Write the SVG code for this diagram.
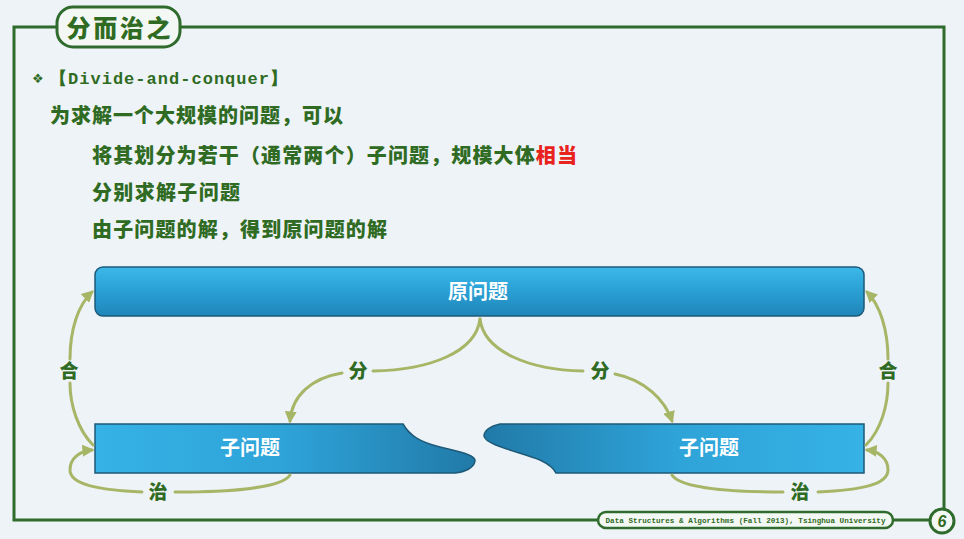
<svg xmlns="http://www.w3.org/2000/svg" width="964" height="539" viewBox="0 0 964 539">
<defs>
<style>
.frame{fill:none;stroke:#2f6b2c;stroke-width:3}
.cn{font-family:"Noto Sans CJK SC","Noto Sans",sans-serif;font-weight:900}
.g{fill:#2f6b22}
.lbl{font-family:"Noto Sans CJK SC",sans-serif;font-weight:900;font-size:19px;fill:#2f6b22;text-anchor:middle}
.wt{font-family:"Noto Sans CJK SC",sans-serif;font-weight:bold;font-size:20px;fill:#ffffff;text-anchor:middle}
.con{fill:none;stroke:#a7b566;stroke-width:3;stroke-linecap:round}
.box{stroke:#1d5a78;stroke-width:1.5}
</style>
<linearGradient id="gTop" x1="0" y1="0" x2="0" y2="1">
<stop offset="0" stop-color="#3bb8e8"/>
<stop offset="0.5" stop-color="#2a9fd4"/>
<stop offset="1" stop-color="#1f85b8"/>
</linearGradient>
<linearGradient id="gL" x1="0" y1="0" x2="1" y2="0">
<stop offset="0" stop-color="#36b2e6"/>
<stop offset="0.5" stop-color="#2ea3d8"/>
<stop offset="1" stop-color="#217aa8"/>
</linearGradient>
<linearGradient id="gR" x1="0" y1="0" x2="1" y2="0">
<stop offset="0" stop-color="#217aa8"/>
<stop offset="0.5" stop-color="#2ea3d8"/>
<stop offset="1" stop-color="#36b2e6"/>
</linearGradient>
<marker id="ar" viewBox="0 0 10 10" refX="8" refY="5" markerWidth="4" markerHeight="4" orient="auto">
<path d="M0,0 L10,5 L0,10 Z" fill="#a7b566"/>
</marker>
</defs>
<rect width="964" height="539" fill="#eef3f8"/>

<g id="frame">
<path class="frame" d="M57,27 H14 V520 H598"/>
<path class="frame" d="M180,27 H944 V509"/>
<path class="frame" d="M893,520 H930"/>
<rect x="57" y="7" width="123" height="40" rx="16" fill="#f4f8f4" stroke="#2f6b2c" stroke-width="3"/>
<text x="118.5" y="37" class="cn g" font-size="24" text-anchor="middle" textLength="104">分而治之</text>
<rect x="598" y="512" width="295" height="16" rx="8" fill="#f4f8f4" stroke="#2f6b2c" stroke-width="2.5"/>
<text x="745.5" y="523" font-family="Liberation Mono,monospace" font-weight="bold" font-size="7.6" fill="#2f6b22" text-anchor="middle" textLength="280">Data Structures &amp; Algorithms (Fall 2013), Tsinghua University</text>
<circle cx="942" cy="521" r="12" fill="#f4f8f4" stroke="#2f6b2c" stroke-width="3"/>
<text x="942" y="527" font-family="Liberation Sans,sans-serif" font-weight="bold" font-style="italic" font-size="16" fill="#2f6b22" text-anchor="middle">6</text>
</g>

<g id="text">
<text x="32" y="83" font-family="DejaVu Sans,sans-serif" font-size="13" fill="#2f6b22">❖</text>
<text x="50" y="84" font-family="Liberation Mono,monospace" font-weight="bold" font-size="17" fill="#2f6b22" textLength="237">【Divide-and-conquer】</text>
<text x="50" y="123" class="cn g" font-size="20" textLength="293">为求解一个大规模的问题，可以</text>
<text x="92" y="163" class="cn g" font-size="20" textLength="485">将其划分为若干（通常两个）子问题，规模大体<tspan fill="#e8221c">相当</tspan></text>
<text x="92" y="200" class="cn g" font-size="20" textLength="148">分别求解子问题</text>
<text x="92" y="237" class="cn g" font-size="20" textLength="295">由子问题的解，得到原问题的解</text>
</g>

<g id="n-orig">
<rect class="box" x="95" y="267" width="769" height="49" rx="8" fill="url(#gTop)"/>
<text class="wt" x="478" y="299">原问题</text>
</g>
<g id="n-subL">
<path class="box" d="M95,424 H403 C410,436 420,442 440,447 C460,452 476,455 475,461 C474,468 465,472 455,473 H95 Z" fill="url(#gL)"/>
<text class="wt" x="250" y="455">子问题</text>
</g>
<g id="n-subR">
<path class="box" d="M864,424 H500 C490,426 484,431 484,436 C485,445 520,452 540,460 C550,465 553,468 556,473 H864 Z" fill="url(#gR)"/>
<text class="wt" x="709" y="455">子问题</text>
</g>

<g id="connectors">
<path class="con" d="M480,319 C476,352 430,370 373,371"/>
<path class="con" marker-end="url(#ar)" d="M342,373 C312,378 292,395 290,421"/>
<path class="con" d="M480,319 C484,352 530,370 583,371"/>
<path class="con" marker-end="url(#ar)" d="M615,374 C645,380 665,400 672,421"/>
<path class="con" d="M93,445 C78,430 70,405 70,383"/>
<path class="con" marker-end="url(#ar)" d="M70,359 C70,330 78,305 92,292"/>
<path class="con" d="M866,445 C881,430 888,405 888,383"/>
<path class="con" marker-end="url(#ar)" d="M888,359 C888,330 880,305 867,292"/>
<path class="con" d="M290,475 C282,488 230,492 175,492"/>
<path class="con" marker-end="url(#ar)" d="M142,492 C100,490 70,485 70,470 C70,458 80,451 92,450"/>
<path class="con" d="M672,475 C680,488 730,492 783,492"/>
<path class="con" marker-end="url(#ar)" d="M818,492 C860,490 888,485 888,470 C888,458 878,451 867,450"/>
<text class="lbl" x="358" y="378">分</text>
<text class="lbl" x="600" y="378">分</text>
<text class="lbl" x="69" y="378">合</text>
<text class="lbl" x="888" y="378">合</text>
<text class="lbl" x="158" y="499">治</text>
<text class="lbl" x="800" y="499">治</text>
</g>
</svg>
